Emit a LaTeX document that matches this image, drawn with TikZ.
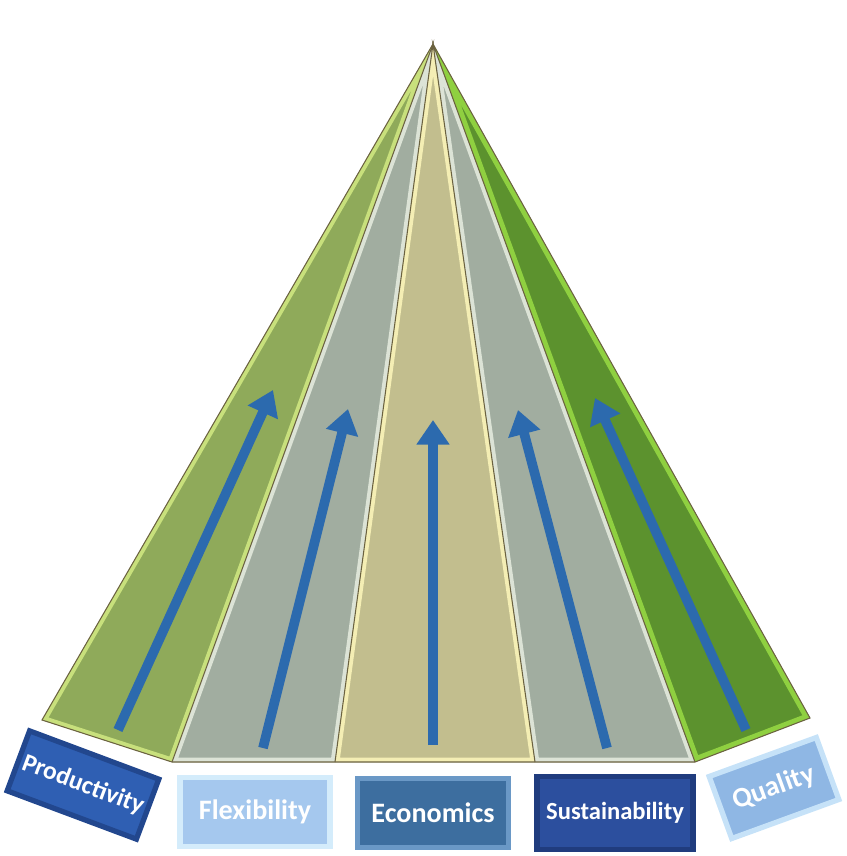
\documentclass[tikz,border=0pt]{standalone}
\usepackage{fontspec}
\setmainfont{Carlito}
\usetikzlibrary{arrows.meta}
\definecolor{lgreen}{HTML}{8FAA5A}
\definecolor{lgreenedge}{HTML}{C8E07C}
\definecolor{greyband}{HTML}{A1ADA0}
\definecolor{greyedge}{HTML}{DCE3D6}
\definecolor{tanband}{HTML}{C2BE8E}
\definecolor{tanedge}{HTML}{F4EEB4}
\definecolor{rgreen}{HTML}{5C922E}
\definecolor{rgreenedge}{HTML}{8FD040}
\definecolor{bandline}{HTML}{6B6240}
\definecolor{arrowblue}{HTML}{2C6AAE}
\definecolor{prodblue}{HTML}{2F5FB3}
\definecolor{prodedge}{HTML}{22478E}
\definecolor{flexblue}{HTML}{A5C8EE}
\definecolor{flexedge}{HTML}{D4ECFB}
\definecolor{econblue}{HTML}{3D6E9F}
\definecolor{econedge}{HTML}{6A98C6}
\definecolor{sustblue}{HTML}{2C4F9E}
\definecolor{sustedge}{HTML}{203C7E}
\definecolor{qualblue}{HTML}{8FB7E4}
\definecolor{qualedge}{HTML}{C6E2F8}
\tikzset{
  tag/.style={draw=#1, line width=3pt, text=white, inner sep=2pt,
    font=\bfseries\fontsize{16}{18}\selectfont},
  upline/.style={draw=arrowblue, line width=5.5pt,
    -{Triangle[width=18pt,length=14pt,fill=arrowblue]}},
}
\begin{document}
\begin{tikzpicture}[x=0.02cm,y=-0.02cm]
    \useasboundingbox (0,0) rectangle (846,856);
    \coordinate (apex) at (433,44);
    \coordinate (b0) at (42,720);
    \coordinate (b1) at (172,762);
    \coordinate (b2) at (335,762);
    \coordinate (b3) at (535,762);
    \coordinate (b4) at (695,762);
    \coordinate (b5) at (810,718);
    \begin{scope}
    \clip (apex) -- (b0) -- (b1) -- cycle;
    \fill[lgreen] (apex) -- (b0) -- (b1) -- cycle;
    \draw[lgreenedge, line width=5pt] (apex) -- (b0) -- (b1) -- cycle;
    \end{scope}
    \begin{scope}
    \clip (apex) -- (b1) -- (b2) -- cycle;
    \fill[greyband] (apex) -- (b1) -- (b2) -- cycle;
    \draw[greyedge, line width=5pt] (apex) -- (b1) -- (b2) -- cycle;
    \end{scope}
    \begin{scope}
    \clip (apex) -- (b2) -- (b3) -- cycle;
    \fill[tanband] (apex) -- (b2) -- (b3) -- cycle;
    \draw[tanedge, line width=5pt] (apex) -- (b2) -- (b3) -- cycle;
    \end{scope}
    \begin{scope}
    \clip (apex) -- (b3) -- (b4) -- cycle;
    \fill[greyband] (apex) -- (b3) -- (b4) -- cycle;
    \draw[greyedge, line width=5pt] (apex) -- (b3) -- (b4) -- cycle;
    \end{scope}
    \begin{scope}
    \clip (apex) -- (b4) -- (b5) -- cycle;
    \fill[rgreen] (apex) -- (b4) -- (b5) -- cycle;
    \draw[rgreenedge, line width=6pt] (apex) -- (b4) -- (b5) -- cycle;
    \end{scope}
    \draw[bandline, line width=0.6pt] (apex) -- (b0) -- (b1) -- (b2) -- (b3) -- (b4) -- (b5) -- cycle;
    \draw[bandline, line width=0.6pt] (b1) -- (apex) -- (b2);
    \draw[bandline, line width=0.6pt] (b3) -- (apex) -- (b4);
    \coordinate (a1s) at (118,730);
    \coordinate (a1e) at (273,390);
    \coordinate (a2s) at (263,748);
    \coordinate (a2e) at (348,409);
    \coordinate (a3s) at (433,745);
    \coordinate (a3e) at (433,420);
    \coordinate (a4s) at (607,748);
    \coordinate (a4e) at (518,410);
    \coordinate (a5s) at (746,730);
    \coordinate (a5e) at (595,398);
    \draw[upline] (a1s) -- (a1e);
    \draw[upline] (a2s) -- (a2e);
    \draw[upline] (a3s) -- (a3e);
    \draw[upline] (a4s) -- (a4e);
    \draw[upline] (a5s) -- (a5e);
    \node[tag=prodedge, fill=prodblue, rotate=-20.5, minimum width=2.76cm, minimum height=1.28cm,
      font=\bfseries\fontsize{14.5}{16}\selectfont] (prod) at (83,785) {Productivity};
    \node[tag=flexedge, fill=flexblue, minimum width=3cm, minimum height=1.38cm] (flex) at (255,812) {Flexibility};
    \node[tag=econedge, fill=econblue, minimum width=3.02cm, minimum height=1.38cm] (econ) at (433,813) {Economics};
    \node[tag=sustedge, fill=sustblue, minimum width=3.12cm, minimum height=1.46cm,
      font=\bfseries\fontsize{14}{16}\selectfont] (sust) at (615,813) {Sustainability};
    \node[tag=qualedge, fill=qualblue, rotate=20, minimum width=2.28cm, minimum height=1.32cm] (qual) at (774,788) {Quality};
\end{tikzpicture}
\end{document}
